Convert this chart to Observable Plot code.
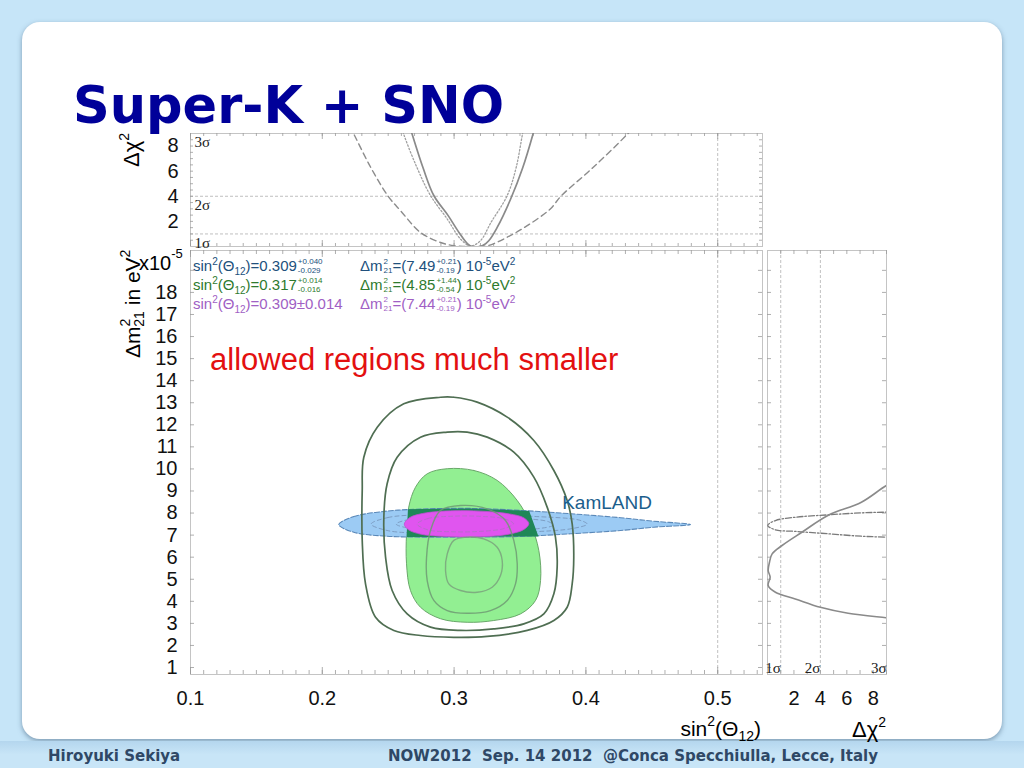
<!DOCTYPE html>
<html><head><meta charset="utf-8">
<script src="https://cdn.jsdelivr.net/npm/d3@7"></script>
<script src="https://cdn.jsdelivr.net/npm/@observablehq/plot@0.6"></script>
<style>
html,body{margin:0;padding:0;width:1024px;height:768px;overflow:hidden;background:#c6e5f8;font-family:"Liberation Sans",Arial,sans-serif;}
#card{position:absolute;left:22px;top:22px;width:980px;height:717px;background:#fff;border-radius:18px;box-shadow:0 2px 5px rgba(50,80,110,.5);}
#footer{position:absolute;left:0;top:741px;width:1024px;height:27px;background:linear-gradient(#b4d6ee,#c8e5f7 50%);}
#stage{position:absolute;left:0;top:0;width:1024px;height:768px;}
#overlay{position:absolute;left:0;top:0;pointer-events:none;}
#legend{position:absolute;left:193px;top:257px;font-family:"Liberation Sans",Arial,sans-serif;font-size:15px;}
.row{position:absolute;white-space:nowrap;height:18px;line-height:18px;}
.c2{left:167px;}
.ss{display:inline-block;vertical-align:middle;font-size:8px;line-height:9.4px;margin-left:1px;position:relative;top:-1px;}
.ss span{display:block;}
sup,sub{font-size:10px;line-height:0;}
</style></head>
<body>
<div id="card"></div>
<div id="footer"></div>
<div id="stage"></div>
<script>
// ---------- data ----------
const xTickValues = [0.1, 0.2, 0.3, 0.4, 0.5];
const yTickValues = [1,2,3,4,5,6,7,8,9,10,11,12,13,14,15,16,17,18];
const chiTickValues = [2, 4, 6, 8];
const sigmaLevels = [1, 4, 9];
const sigmaNames = ["1σ", "2σ", "3σ"];

// top panel: delta chi^2 vs sin^2(theta12)
const chiDashed = [[0.214,11],[0.2237,9],[0.237,6.25],[0.250,4],[0.2593,2.86],[0.2745,1.12],[0.2897,0.32],[0.300,0.06],[0.307,0],[0.315,0],[0.325,0.05],[0.340,0.72],[0.3555,1.66],[0.373,2.99],[0.381,4],[0.405,6.25],[0.432,9],[0.445,10.5]];
const chiSolid = [[0.262,11],[0.268,9],[0.2765,6.25],[0.2846,4.06],[0.2955,2.46],[0.3037,1.12],[0.3105,0.19],[0.3137,0],[0.3213,0.05],[0.3263,0.46],[0.3327,1.52],[0.343,3.8],[0.352,6.25],[0.360,9],[0.365,11]];
const chiDotted = [[0.256,11],[0.2616,9],[0.272,6.25],[0.2821,4.06],[0.2948,2.19],[0.3049,0.59],[0.3125,0.05],[0.320,0.46],[0.328,1.92],[0.3403,4.06],[0.347,6.25],[0.352,9],[0.356,11]];

// right panel: delta chi^2 vs delta m^2_21
const rightSolid = [[10.5,9.7],[9,9.25],[7.1,8.49],[4.6,7.9],[2.6,7.13],[1.1,6.53],[0.35,6.15],[0.15,5.77],[0.05,5.40],[0.2,5.09],[0.05,4.72],[0.6,4.41],[2.1,4.11],[4.0,3.73],[6.1,3.46],[9,3.25],[10.5,3.15]];
const rightDashDot = [[10.5,8.06],[9,8.04],[7.1,8.01],[4.6,7.92],[2.1,7.81],[0.6,7.66],[0.02,7.44],[0.6,7.24],[2.1,7.17],[4.6,7.06],[7.1,6.95],[9,6.91],[10.5,6.89]];

// main panel contours (sin^2, dm^2 x1e-5)
const solarOuter = [[0.2897,13.25],[0.2998,13.25],[0.3175,13.03],[0.3403,12.35],[0.3605,11.29],[0.3757,9.93],[0.3858,8.57],[0.3896,7.51],[0.3908,6.0],[0.3896,4.79],[0.3858,3.73],[0.3757,3.13],[0.3555,2.68],[0.3251,2.41],[0.2998,2.37],[0.2745,2.45],[0.2543,2.68],[0.2404,3.28],[0.2328,4.79],[0.2303,6.76],[0.2303,9.02],[0.2315,10.53],[0.2417,11.89],[0.2618,12.95]];
const solarMiddle = [[0.2948,11.67],[0.3099,11.67],[0.3251,11.44],[0.3453,10.76],[0.3605,9.63],[0.3706,8.27],[0.3769,6.91],[0.3782,5.55],[0.3757,4.34],[0.3681,3.43],[0.3529,2.98],[0.3301,2.75],[0.3049,2.68],[0.2821,2.83],[0.2644,3.43],[0.2530,4.49],[0.2480,6.0],[0.2467,7.81],[0.2492,9.33],[0.2568,10.53],[0.2745,11.44]];
const solarFilled = [[0.2948,10.01],[0.3150,9.93],[0.3327,9.48],[0.3479,8.57],[0.3580,7.51],[0.3643,6.30],[0.3656,4.94],[0.3618,4.04],[0.3504,3.43],[0.3301,3.13],[0.3099,3.05],[0.2897,3.21],[0.2745,3.73],[0.2669,4.49],[0.2639,5.70],[0.2639,7.06],[0.2656,8.27],[0.2707,9.17],[0.2796,9.78]];
const solarInnerA = [[0.3049,8.34],[0.3251,8.19],[0.3390,7.66],[0.3453,6.76],[0.3479,5.70],[0.3466,4.79],[0.3403,4.04],[0.3276,3.58],[0.3099,3.46],[0.2948,3.58],[0.2846,4.04],[0.2796,4.94],[0.2791,6.0],[0.2821,7.21],[0.2897,8.12]];
const solarInnerB = [[0.3099,6.91],[0.3225,6.83],[0.3327,6.45],[0.3365,5.85],[0.3352,5.17],[0.3289,4.64],[0.3175,4.41],[0.3049,4.49],[0.2960,4.79],[0.2935,5.40],[0.2948,6.15],[0.2998,6.76]];
const kamland = [[0.2125,7.48],[0.2239,7.84],[0.2492,8.09],[0.2745,8.18],[0.3124,8.21],[0.3504,8.12],[0.3883,7.97],[0.4263,7.79],[0.4515,7.63],[0.4794,7.48],[0.4515,7.36],[0.4263,7.21],[0.3883,7.06],[0.3504,6.94],[0.3124,6.91],[0.2745,6.91],[0.2492,6.95],[0.2239,7.13]];
const kamlandInner1 = [[0.237,7.5],[0.250,7.8],[0.280,7.93],[0.320,7.95],[0.360,7.85],[0.395,7.68],[0.401,7.5],[0.390,7.3],[0.360,7.15],[0.320,7.08],[0.280,7.09],[0.250,7.2]];
const kamlandInner2 = [[0.256,7.5],[0.265,7.7],[0.290,7.82],[0.320,7.83],[0.350,7.76],[0.372,7.6],[0.375,7.45],[0.362,7.28],[0.335,7.19],[0.300,7.18],[0.270,7.27]];
const combinedBand = [[0.2650,8.17],[0.2745,8.18],[0.3124,8.21],[0.3504,8.12],[0.3570,8.09],[0.3640,6.94],[0.3504,6.94],[0.3124,6.91],[0.2745,6.91],[0.2639,6.92]];
const combined = [[0.2622,7.50],[0.2665,7.80],[0.2760,7.98],[0.2900,8.08],[0.3050,8.11],[0.3250,8.07],[0.3420,7.96],[0.3530,7.78],[0.3567,7.52],[0.3530,7.26],[0.3430,7.06],[0.3280,6.95],[0.3100,6.92],[0.2900,6.95],[0.2750,7.04],[0.2655,7.24]];
const combinedInner = [[0.272,7.5],[0.280,7.75],[0.300,7.86],[0.320,7.85],[0.338,7.74],[0.345,7.52],[0.338,7.3],[0.320,7.17],[0.300,7.15],[0.280,7.24]];

// ---------- helpers ----------
const X = d => d[0], Y = d => d[1];
const frameColor = "#c4c4c4", tickColor = "#9a9a9a", gridColor = "#b0b0b0";
const xDomain = [0.1, 0.534], yDomain = [0.683, 19.9], chiDomain = [0, 9];
const xMinor = d3.range(10, 54).map(i => i / 100);
const xMajor = xMinor.filter(v => Math.abs(v * 10 - Math.round(v * 10)) < 1e-6);
const yMinor = d3.range(1, 20);
const chiMinor = d3.range(1, 10);
const chiHalf = d3.range(1, 18).map(i => i / 2);

function frameTicks(xs, xsLong, ys, fw, fh, len, lenLong) {
  const o = {stroke: tickColor, strokeWidth: 0.8};
  return [
    Plot.ruleX(xs, {...o, x: d => d, insetTop: fh - len}),
    Plot.ruleX(xs, {...o, x: d => d, insetBottom: fh - len}),
    Plot.ruleX(xsLong, {...o, x: d => d, insetTop: fh - lenLong}),
    Plot.ruleX(xsLong, {...o, x: d => d, insetBottom: fh - lenLong}),
    Plot.ruleY(ys, {...o, y: d => d, insetRight: fw - len}),
    Plot.ruleY(ys, {...o, y: d => d, insetLeft: fw - len})
  ];
}
const baseStyle = {fontFamily: "Liberation Sans, Arial, sans-serif", fontSize: "20px", color: "#000", background: "transparent", overflow: "visible"};
const axisFont = {fontSize: 20, fill: "#111"};

// ---------- top panel ----------
const topPlot = Plot.plot({
  width: 680, height: 130, marginLeft: 90, marginRight: 18, marginTop: 8, marginBottom: 9,
  x: {domain: xDomain, axis: null},
  y: {domain: chiDomain},
  style: baseStyle,
  marks: [
    Plot.frame({stroke: frameColor}),
    Plot.ruleY([1, 4], {stroke: gridColor, strokeDasharray: "3,2", strokeWidth: 0.8}),
    Plot.ruleX([0.5], {stroke: gridColor, strokeDasharray: "3,2", strokeWidth: 0.8}),
    ...frameTicks(xMinor, xMajor, chiHalf, 572, 113, 3, 6),
    Plot.axisY({ticks: chiTickValues, tickSize: 0, tickPadding: 12, label: null, ...axisFont}),
    Plot.line(chiDashed, {x: X, y: Y, curve: "catmull-rom", clip: true, stroke: "#8c8c8c", strokeWidth: 1.4, strokeDasharray: "6,4"}),
    Plot.line(chiDotted, {x: X, y: Y, curve: "catmull-rom", clip: true, stroke: "#a0a0a0", strokeWidth: 1.3, strokeDasharray: "1.5,2"}),
    Plot.line(chiSolid, {x: X, y: Y, curve: "catmull-rom", clip: true, stroke: "#8a8a8a", strokeWidth: 1.7}),
    Plot.text(sigmaLevels, {y: d => d, text: (d, i) => sigmaNames[i], frameAnchor: "left", textAnchor: "start", lineAnchor: "top", dx: 4, dy: 3, fontFamily: "Liberation Serif, DejaVu Serif, serif", fontSize: 15, fill: "#222"})
  ]
});

// ---------- main panel ----------
const mainPlot = Plot.plot({
  width: 670, height: 480, marginLeft: 90, marginRight: 8, marginTop: 5, marginBottom: 51,
  x: {domain: xDomain},
  y: {domain: yDomain},
  style: baseStyle,
  marks: [
    Plot.frame({stroke: frameColor}),
    Plot.ruleX([0.5], {stroke: gridColor, strokeDasharray: "3,2", strokeWidth: 0.8}),
    ...frameTicks(xMinor, xMajor, yMinor, 572, 424, 4, 7),
    Plot.axisX({ticks: xTickValues, tickSize: 0, tickPadding: 16, tickFormat: d => d.toFixed(1), label: null, ...axisFont}),
    Plot.axisY({ticks: yTickValues, tickSize: 0, tickPadding: 13, label: null, ...axisFont}),
    Plot.line(solarFilled, {x: X, y: Y, curve: "catmull-rom-closed", fill: "#92ef92", stroke: "#6aa86a", strokeWidth: 1}),
    Plot.line(kamland, {x: X, y: Y, curve: "catmull-rom-closed", fill: "#9ccbf4", stroke: "#5a88b8", strokeWidth: 1.1, strokeDasharray: "5,2"}),
    Plot.line(kamlandInner1, {x: X, y: Y, curve: "catmull-rom-closed", stroke: "#7d9ec4", strokeWidth: 1, strokeDasharray: "4,3"}),
    Plot.line(kamlandInner2, {x: X, y: Y, curve: "catmull-rom-closed", stroke: "#7d9ec4", strokeWidth: 1, strokeDasharray: "4,3"}),
    Plot.line(combinedBand, {x: X, y: Y, curve: "linear-closed", fill: "#1f8757", stroke: "none"}),
    Plot.line(combined, {x: X, y: Y, curve: "catmull-rom-closed", fill: "#e055ef", stroke: "#c24fd2", strokeWidth: 0.8}),
    Plot.line(combinedInner, {x: X, y: Y, curve: "catmull-rom-closed", stroke: "#b86ccc", strokeWidth: 1, strokeDasharray: "4,3"}),
    Plot.line(solarInnerA, {x: X, y: Y, curve: "catmull-rom-closed", stroke: "#6f9a73", strokeWidth: 1.4, strokeOpacity: 0.85}),
    Plot.line(solarInnerB, {x: X, y: Y, curve: "catmull-rom-closed", stroke: "#7aa27d", strokeWidth: 1.4, strokeOpacity: 0.85}),
    Plot.line(solarMiddle, {x: X, y: Y, curve: "catmull-rom-closed", stroke: "#4f6e52", strokeWidth: 1.7}),
    Plot.line(solarOuter, {x: X, y: Y, curve: "catmull-rom-closed", stroke: "#4f6e52", strokeWidth: 1.7}),
    Plot.text(["KamLAND"], {x: 0.382, y: 8.48, text: d => d, textAnchor: "start", lineAnchor: "middle", fontSize: 19, fill: "#1b5e8c"})
  ]
});

// ---------- right panel ----------
const rightPlot = Plot.plot({
  width: 140, height: 480, marginLeft: 5, marginRight: 16, marginTop: 5, marginBottom: 51,
  x: {domain: chiDomain},
  y: {domain: yDomain, axis: null},
  style: baseStyle,
  marks: [
    Plot.frame({stroke: frameColor}),
    Plot.ruleX([1, 4], {stroke: gridColor, strokeDasharray: "3,2", strokeWidth: 0.8}),
    ...frameTicks(chiMinor, [], yMinor, 119, 424, 4, 7),
    Plot.axisX({ticks: chiTickValues, tickSize: 0, tickPadding: 16, label: null, ...axisFont}),
    Plot.line(rightDashDot, {x: X, y: Y, curve: "catmull-rom", clip: true, stroke: "#7a7a7a", strokeWidth: 1.3, strokeDasharray: "6,2,1.5,2"}),
    Plot.line(rightSolid, {x: X, y: Y, curve: "catmull-rom", clip: true, stroke: "#8a8a8a", strokeWidth: 1.6}),
    Plot.text(sigmaLevels, {x: d => d, text: (d, i) => sigmaNames[i], frameAnchor: "bottom", textAnchor: "end", lineAnchor: "bottom", dy: -2, fontFamily: "Liberation Serif, DejaVu Serif, serif", fontSize: 15, fill: "#222"})
  ]
});

function place(svg, left, top, w) {
  const d = document.createElement("div");
  d.style.cssText = `position:absolute;left:${left}px;top:${top}px;width:${w}px;`;
  d.appendChild(svg);
  document.getElementById("stage").appendChild(d);
}
place(topPlot, 100, 125, 680);
place(mainPlot, 100, 245, 670);
place(rightPlot, 762, 245, 140);
</script>

<svg id="overlay" width="1024" height="768" font-family="Liberation Sans, Arial, sans-serif">
  <text x="73" y="123" font-family="DejaVu Sans, sans-serif" font-weight="bold" font-size="51" fill="#000099">Super-K + SNO</text>
  <text transform="translate(139,167) rotate(-90)" font-size="22" fill="#000">Δχ<tspan font-size="14" dy="-10">2</tspan></text>
  <text transform="translate(140,358) rotate(-90)" font-size="21" fill="#000">Δm<tspan font-size="14" dy="-10">2</tspan><tspan font-size="14" dx="-8" dy="14">21</tspan><tspan dy="-4"> in eV</tspan><tspan font-size="14" dy="-10">2</tspan></text>
  <text x="139" y="270" font-size="20" fill="#000">x10<tspan font-size="13" dy="-12">-5</tspan></text>
  <text x="761" y="736" text-anchor="end" font-size="21" fill="#000">sin<tspan font-size="14" dy="-10">2</tspan><tspan dy="10">(Θ</tspan><tspan font-size="14" dy="5">12</tspan><tspan dy="-5">)</tspan></text>
  <text x="886" y="737" text-anchor="end" font-size="22" fill="#000">Δχ<tspan font-size="14" dy="-10">2</tspan></text>
  <text x="210" y="370" font-size="31" fill="#e31010">allowed regions much smaller</text>
  <text x="48" y="761" font-family="DejaVu Sans, sans-serif" font-weight="bold" font-size="15" fill="#2f4866">Hiroyuki Sekiya</text>
  <text x="388" y="761" font-family="DejaVu Sans, sans-serif" font-weight="bold" font-size="15" fill="#2f4866" xml:space="preserve">NOW2012  Sep. 14 2012  @Conca Specchiulla, Lecce, Italy</text>
</svg>

<div id="legend">
  <div class="row" style="top:0;color:#21507c">sin<sup>2</sup>(Θ<sub>12</sub>)=0.309<span class="ss"><span>+0.040</span><span>-0.029</span></span></div>
  <div class="row c2" style="top:0;color:#21507c">Δm<span class="ss"><span>2</span><span>21</span></span>=(7.49<span class="ss"><span>+0.21</span><span>-0.19</span></span>) 10<sup>-5</sup>eV<sup>2</sup></div>
  <div class="row" style="top:19px;color:#2e7a2e">sin<sup>2</sup>(Θ<sub>12</sub>)=0.317<span class="ss"><span>+0.014</span><span>-0.016</span></span></div>
  <div class="row c2" style="top:19px;color:#2e7a2e">Δm<span class="ss"><span>2</span><span>21</span></span>=(4.85<span class="ss"><span>+1.44</span><span>-0.54</span></span>) 10<sup>-5</sup>eV<sup>2</sup></div>
  <div class="row" style="top:38px;color:#a060c4">sin<sup>2</sup>(Θ<sub>12</sub>)=0.309±0.014</div>
  <div class="row c2" style="top:38px;color:#a060c4">Δm<span class="ss"><span>2</span><span>21</span></span>=(7.44<span class="ss"><span>+0.21</span><span>-0.19</span></span>) 10<sup>-5</sup>eV<sup>2</sup></div>
</div>
</body></html>
